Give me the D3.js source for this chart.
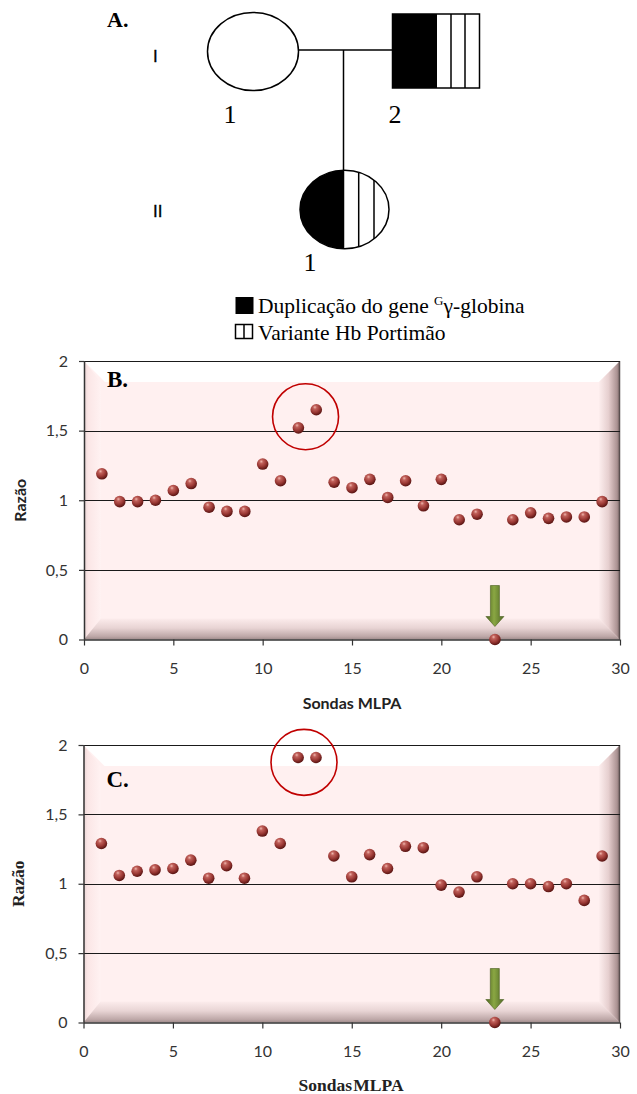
<!DOCTYPE html>
<html>
<head>
<meta charset="utf-8">
<script src="https://cdn.jsdelivr.net/npm/d3@7"></script>
<style>
html,body{margin:0;padding:0;background:#fff;}
svg{display:block;}
</style>
</head>
<body>
<svg id="fig" width="637" height="1094"></svg>
<script>
// ---------------- DATA ----------------
const probes = d3.range(1, 30); // 1..29
const ratioB = [1.19, 0.99, 0.99, 1.00, 1.07, 1.12, 0.95, 0.92, 0.92, 1.26,
                1.14, 1.52, 1.65, 1.13, 1.09, 1.15, 1.02, 1.14, 0.96, 1.15,
                0.86, 0.90, 0.00, 0.86, 0.91, 0.87, 0.88, 0.88, 0.99];
const ratioC = [1.29, 1.06, 1.09, 1.10, 1.11, 1.17, 1.04, 1.13, 1.04, 1.38,
                1.29, 1.91, 1.91, 1.20, 1.05, 1.21, 1.11, 1.27, 1.26, 0.99,
                0.94, 1.05, 0.00, 1.00, 1.00, 0.98, 1.00, 0.88, 1.20];
const xTicks = [0, 5, 10, 15, 20, 25, 30];
const yTicks = [0, 0.5, 1, 1.5, 2];
const yTickLabels = ["0", "0,5", "1", "1,5", "2"];
const highlightB = {x: 12.4, y: 1.60};   // circled duplicated probes
const highlightC = {x: 12.33, y: 1.875};
const deletedProbe = 23;                 // arrow marks probe 23
const legendItems = ["Duplicação do gene ", "Variante Hb Portimão"];

const svg = d3.select("#fig");
const defs = svg.append("defs");
const SERIF = "'Liberation Serif','Times New Roman',serif";
const SANS = "Lato,'Liberation Sans',sans-serif";

// gradients
const ball = defs.append("radialGradient").attr("id", "ball")
  .attr("cx", "40%").attr("cy", "32%").attr("r", "65%").attr("fx", "38%").attr("fy", "28%");
[["0%", "#efb7ae"], ["25%", "#c0605a"], ["65%", "#9a3834"], ["100%", "#5e1715"]]
  .forEach(s => ball.append("stop").attr("offset", s[0]).attr("stop-color", s[1]));

const arrowG = defs.append("linearGradient").attr("id", "arrowG").attr("x1", "0").attr("x2", "1").attr("y1", "0").attr("y2", "0");
[["0%", "#4d6320"], ["45%", "#8aa743"], ["100%", "#506826"]]
  .forEach(s => arrowG.append("stop").attr("offset", s[0]).attr("stop-color", s[1]));

function lg(id, x1, y1, x2, y2, stops) {
  const g = defs.append("linearGradient").attr("id", id)
    .attr("x1", x1).attr("y1", y1).attr("x2", x2).attr("y2", y2);
  stops.forEach(s => g.append("stop").attr("offset", s[0]).attr("stop-color", s[1]));
}
lg("bvTop", 0, 0, 0, 1, [["0%", "#ffffff"], ["100%", "#ffffff"]]);
lg("bvLeft", 0, 0, 1, 0, [["0%", "#e8d4d4"], ["25%", "#fbe6e6"], ["100%", "#fff2f2"]]);
lg("bvBottom", 0, 0, 0, 1, [["0%", "#fcecec"], ["45%", "#e8d4d4"], ["85%", "#bea8a8"], ["100%", "#a08c8c"]]);
lg("bvRight", 0, 0, 1, 0, [["0%", "#fdeeee"], ["45%", "#e6cfcf"], ["85%", "#ac9494"], ["100%", "#7e6a6a"]]);

// ---------------- PANEL A : pedigree ----------------
const A = svg.append("g");
A.append("text").attr("x", 107).attr("y", 27).attr("font-family", SERIF)
  .attr("font-weight", "bold").attr("font-size", 22).text("A.");
A.append("text").attr("x", 153).attr("y", 62).attr("font-family", "'Liberation Sans',sans-serif")
  .attr("font-size", 17).attr("stroke", "#000").attr("stroke-width", 0.3).text("I");
A.append("text").attr("x", 153).attr("y", 217).attr("font-family", "'Liberation Sans',sans-serif")
  .attr("font-size", 17).attr("stroke", "#000").attr("stroke-width", 0.3).text("II");

// lines
A.append("line").attr("x1", 298).attr("y1", 50).attr("x2", 392).attr("y2", 50).attr("stroke", "#000").attr("stroke-width", 1.5);
A.append("line").attr("x1", 343.5).attr("y1", 50).attr("x2", 343.5).attr("y2", 171).attr("stroke", "#000").attr("stroke-width", 1.5);

// I-1 female unaffected
A.append("ellipse").attr("cx", 253).attr("cy", 51.5).attr("rx", 45.5).attr("ry", 39)
  .attr("fill", "#fff").attr("stroke", "#000").attr("stroke-width", 1.5);
// I-2 male
A.append("rect").attr("x", 392.5).attr("y", 14).attr("width", 44.5).attr("height", 74).attr("fill", "#000");
A.append("rect").attr("x", 392.5).attr("y", 14).attr("width", 87).attr("height", 74)
  .attr("fill", "none").attr("stroke", "#000").attr("stroke-width", 1.5);
[451, 465].forEach(x => A.append("line").attr("x1", x).attr("x2", x).attr("y1", 14).attr("y2", 88)
  .attr("stroke", "#000").attr("stroke-width", 1.5));
// II-1 female
const cx2 = 344.5, cy2 = 209.5, rx2 = 44.5, ry2 = 39.3;
defs.append("clipPath").attr("id", "childClip").append("ellipse")
  .attr("cx", cx2).attr("cy", cy2).attr("rx", rx2).attr("ry", ry2);
A.append("ellipse").attr("cx", cx2).attr("cy", cy2).attr("rx", rx2).attr("ry", ry2).attr("fill", "#fff");
A.append("rect").attr("x", cx2 - rx2 - 2).attr("y", cy2 - ry2 - 2).attr("width", rx2 + 1).attr("height", 2 * ry2 + 4)
  .attr("fill", "#000").attr("clip-path", "url(#childClip)");
[343.5, 358.7, 374].forEach(x => A.append("line").attr("x1", x).attr("x2", x).attr("y1", cy2 - ry2).attr("y2", cy2 + ry2)
  .attr("stroke", "#000").attr("stroke-width", 1.5).attr("clip-path", "url(#childClip)"));
A.append("ellipse").attr("cx", cx2).attr("cy", cy2).attr("rx", rx2).attr("ry", ry2)
  .attr("fill", "none").attr("stroke", "#000").attr("stroke-width", 1.5);

// numbers
[[230, 123, "1"], [395, 123, "2"], [310, 271, "1"]].forEach(d =>
  A.append("text").attr("x", d[0]).attr("y", d[1]).attr("text-anchor", "middle")
    .attr("font-family", SERIF).attr("font-size", 26).text(d[2]));

// legend
A.append("rect").attr("x", 235.5).attr("y", 297).attr("width", 18).attr("height", 17).attr("fill", "#000");
A.append("rect").attr("x", 235.5).attr("y", 324.5).attr("width", 17).attr("height", 14)
  .attr("fill", "#fff").attr("stroke", "#000").attr("stroke-width", 1.5);
A.append("line").attr("x1", 244).attr("x2", 244).attr("y1", 324.5).attr("y2", 338.5).attr("stroke", "#000").attr("stroke-width", 1.5);
const t1 = A.append("text").attr("x", 258).attr("y", 313).attr("font-family", SERIF).attr("font-size", 21.5);
t1.append("tspan").text(legendItems[0]);
t1.append("tspan").attr("font-size", 13).attr("dy", -8).text("G");
t1.append("tspan").attr("dy", 8).text("γ-globina");
A.append("text").attr("x", 258).attr("y", 340).attr("font-family", SERIF).attr("font-size", 21.5).text(legendItems[1]);

// ---------------- PANELS B & C ----------------
function drawPanel(cfg) {
  const g = svg.append("g");
  const x = d3.scaleLinear().domain([0, 30]).range([cfg.x0, cfg.x1]);
  const y = d3.scaleLinear().domain([0, 2]).range([cfg.y0, cfg.y1]);
  const L = x(0), R = x(30), T = y(2), B = y(0);
  const bw = 21;

  // plot area with bevel
  g.append("rect").attr("x", L).attr("y", T).attr("width", R - L).attr("height", B - T).attr("fill", "#fff0f0");
  g.append("polygon").attr("points", [[L, T], [R, T], [R - bw, T + bw], [L + bw, T + bw]].join(" ")).attr("fill", "url(#bvTop)");
  g.append("polygon").attr("points", [[L, T], [L + bw - 4, T + bw], [L + bw - 4, B - bw], [L, B]].join(" ")).attr("fill", "url(#bvLeft)");
  g.append("polygon").attr("points", [[L, B], [L + bw - 4, B - bw], [R - bw, B - bw], [R, B]].join(" ")).attr("fill", "url(#bvBottom)");
  g.append("polygon").attr("points", [[R, T], [R, B], [R - bw, B - bw], [R - bw, T + bw]].join(" ")).attr("fill", "url(#bvRight)");
  g.append("line").attr("x1", R - 0.5).attr("x2", R - 0.5).attr("y1", T).attr("y2", B).attr("stroke", "#5a5050").attr("stroke-width", 1.5);

  // gridlines
  g.selectAll(".grid").data(yTicks.filter(v => v > 0)).join("line")
    .attr("x1", L).attr("x2", R).attr("y1", d => Math.round(y(d)) + 0.5).attr("y2", d => Math.round(y(d)) + 0.5)
    .attr("stroke", "#1a1a1a").attr("stroke-width", 1);

  // axes
  const yAxis = d3.axisLeft(y).tickValues(yTicks).tickSize(5).tickPadding(11)
    .tickFormat((d, i) => yTickLabels[i]);
  const ya = g.append("g").attr("transform", `translate(${L},0)`).call(yAxis);
  const xAxis = d3.axisBottom(x).tickValues(xTicks).tickSize(6).tickPadding(17);
  const xa = g.append("g").attr("transform", `translate(0,${B})`).call(xAxis);
  [ya, xa].forEach(a => {
    a.select(".domain").attr("stroke", "#333").attr("stroke-width", 1.5);
    a.selectAll(".tick line").attr("stroke", "#333").attr("stroke-width", 1.2);
    a.selectAll(".tick text").attr("font-family", SANS).attr("font-size", 16).attr("fill", "#333");
  });
  ya.select(".domain").attr("d", `M0.5,${T}V${B}`);
  xa.select(".domain").attr("d", `M${L},0.5H${R}`);

  // panel letter
  g.append("text").attr("x", L + 23).attr("y", cfg.letterY).attr("font-family", SERIF)
    .attr("font-weight", "bold").attr("font-size", 23).text(cfg.letter);

  // axis titles
  g.append("text").attr("transform", `translate(${cfg.ytX},${(T + B) / 2}) rotate(-90)`)
    .attr("text-anchor", "middle").attr("font-family", cfg.titleFont).attr("font-weight", "bold")
    .attr("font-size", cfg.titleSize).attr("fill", "#222").text("Razão");
  g.append("text").attr("x", cfg.xtX).attr("y", cfg.xtY).attr("text-anchor", "middle")
    .attr("font-family", cfg.titleFont).attr("font-weight", "bold").attr("font-size", cfg.titleSize)
    .attr("fill", "#222").attr("word-spacing", cfg.wordSpacing).text("Sondas MLPA");

  // highlight circle
  g.append("circle").attr("cx", x(cfg.hl.x)).attr("cy", y(cfg.hl.y)).attr("r", 33)
    .attr("fill", "none").attr("stroke", "#c00000").attr("stroke-width", 1.6);

  // arrow above deleted probe
  const ax = x(deletedProbe), tip = y(0) - 13;
  const sw = 4.5, hw = 9, hh = 10, len = 41;
  g.append("polygon").attr("points", [
    [ax - sw, tip - len], [ax + sw, tip - len], [ax + sw, tip - hh], [ax + hw, tip - hh],
    [ax, tip], [ax - hw, tip - hh], [ax - sw, tip - hh]].join(" "))
    .attr("fill", "url(#arrowG)").attr("stroke", "#4a5e1f").attr("stroke-width", 0.6);

  // data points
  g.selectAll(".pt").data(probes).join("circle")
    .attr("cx", (d) => x(d)).attr("cy", (d, i) => y(cfg.values[i])).attr("r", 5.8)
    .attr("fill", "url(#ball)");
}

drawPanel({values: ratioB, x0: 84, x1: 620, y0: 639.5, y1: 361, letter: "B.", letterY: 387,
  hl: highlightB, titleFont: SANS, titleSize: 16, ytX: 26, xtX: 352, xtY: 709, wordSpacing: 0});
drawPanel({values: ratioC, x0: 83.5, x1: 620, y0: 1022.5, y1: 745, letter: "C.", letterY: 787,
  hl: highlightC, titleFont: SERIF, titleSize: 17.5, ytX: 24, xtX: 351, xtY: 1091, wordSpacing: -3});
</script>
</body>
</html>
